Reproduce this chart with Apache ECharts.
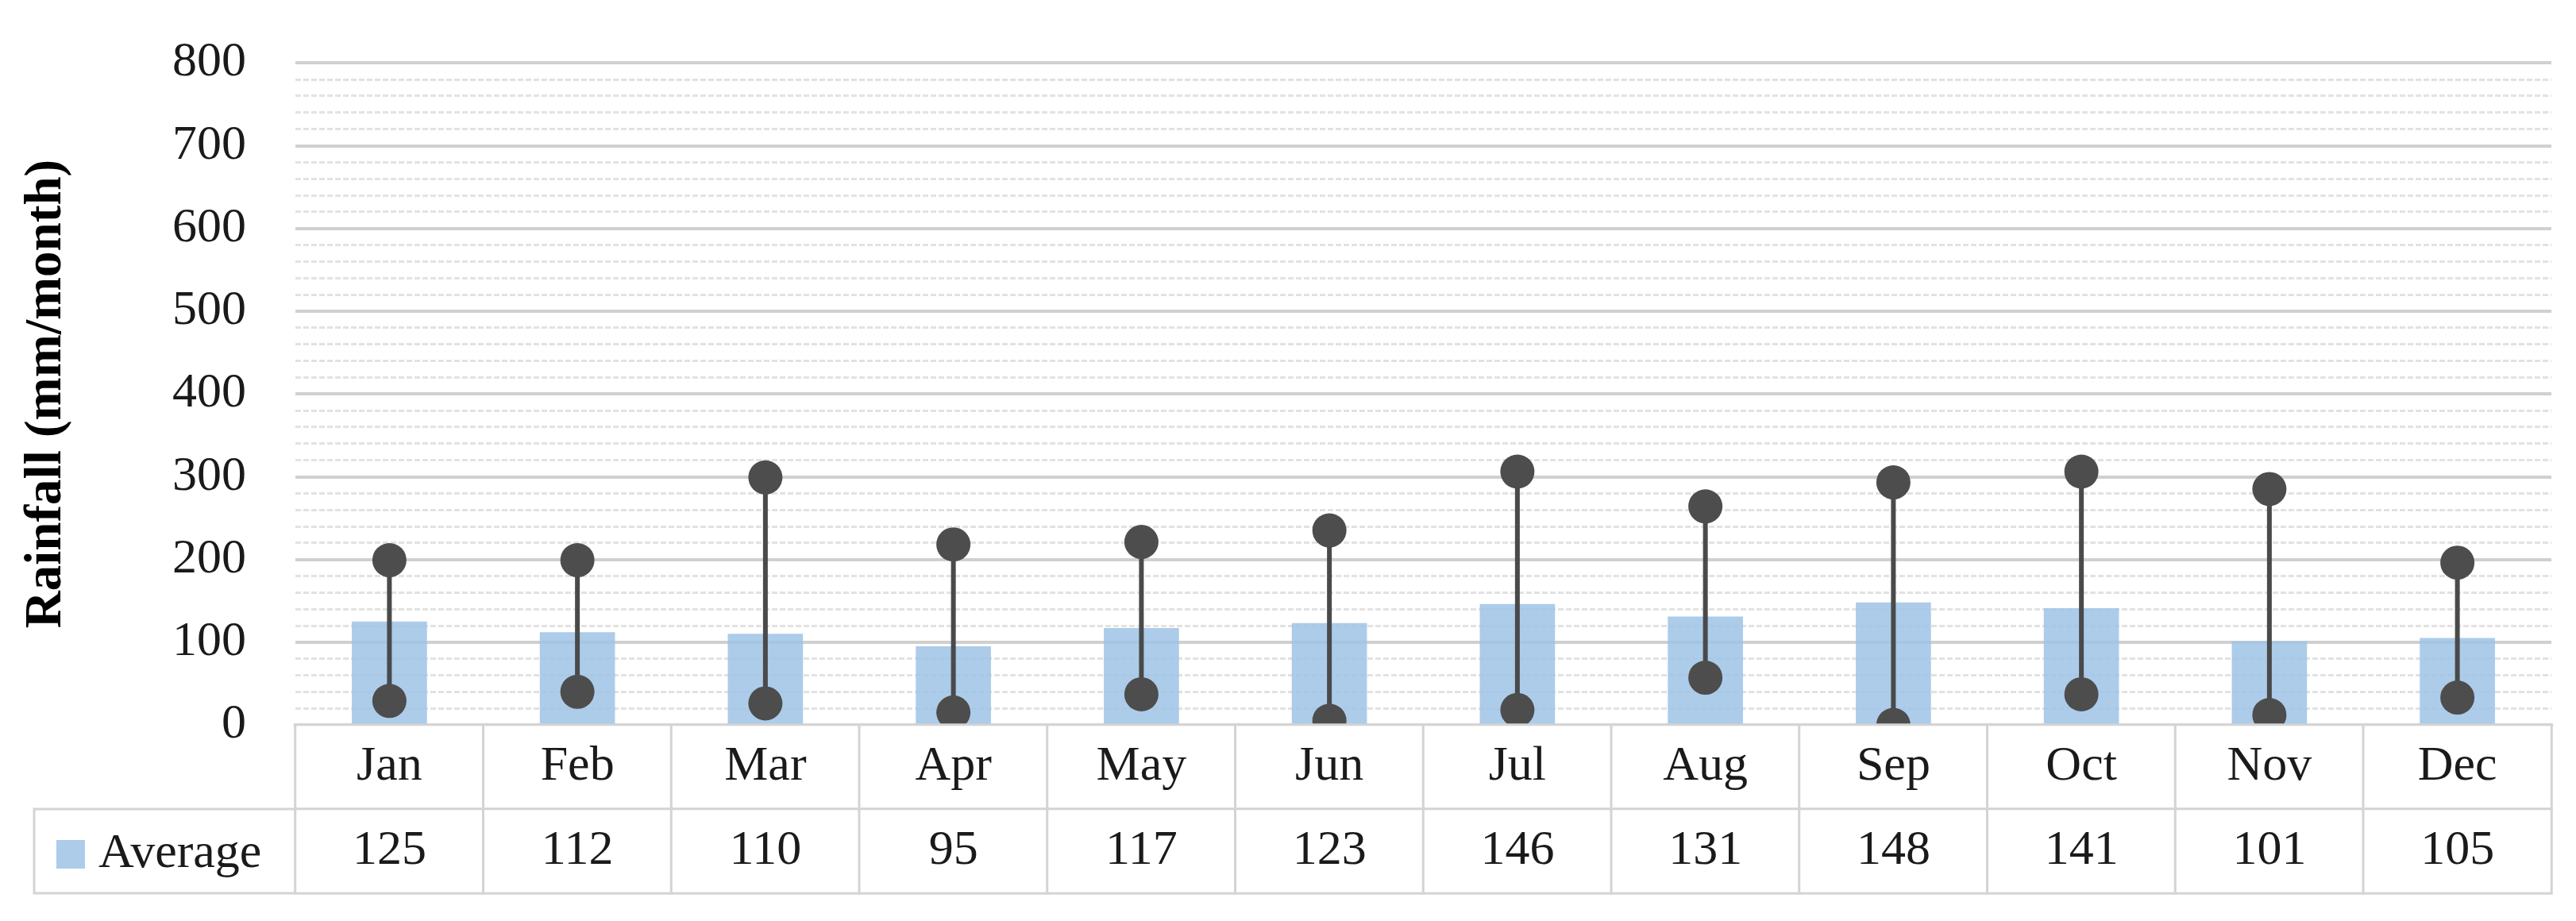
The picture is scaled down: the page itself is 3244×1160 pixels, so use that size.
<!DOCTYPE html>
<html>
<head>
<meta charset="utf-8">
<script src="https://cdn.jsdelivr.net/npm/echarts@6/dist/echarts.min.js"></script>
<style>
html,body{margin:0;padding:0;background:#fff;}
#chart{width:3244px;height:1160px;}
</style>
</head>
<body>
<div id="chart"></div>
<script>
var months = ['Jan','Feb','Mar','Apr','May','Jun','Jul','Aug','Sep','Oct','Nov','Dec'];
var averageValues = [125,112,110,95,117,123,146,131,148,141,101,105];
var maxValues = [199,199,299,218,221,235,306,264,293,306,285,196];
var minValues = [29,40,26,15,37,5,18,57,0,37,12,33];
var yTicks = [0,100,200,300,400,500,600,700,800];

var FONT = "'Palatino Linotype','Book Antiqua',Palatino,'Liberation Serif',serif";
var TXT = '#1a1a1a';
var BORDER = '#d4d4d4';

var rangeData = months.map(function(m, i){ return [i, minValues[i], maxValues[i]]; });
var tableData = [];
months.forEach(function(m, i){
  tableData.push([i, 1, averageValues[i]]);
  tableData.push([i, 0, averageValues[i]]);
});

var chart = echarts.init(document.getElementById('chart'), null, {renderer:'canvas'});
chart.setOption({
  animation: false,
  backgroundColor: '#ffffff',
  textStyle: {fontFamily: FONT},
  grid: [
    {left: 372, right: 31, top: 79, bottom: 247, containLabel: false},
    {left: 372, right: 31, top: 913, height: 212, containLabel: false}
  ],
  legend: {
    data: ['Average'],
    left: 66, top: 1035,
    itemWidth: 36, itemHeight: 36,
    icon: 'rect',
    textStyle: {fontFamily: FONT, fontSize: 62, color: TXT, lineHeight: 72, padding: [0,0,0,12]}
  },
  xAxis: [
    {gridIndex: 0, type: 'category', data: months,
     axisLine: {show: true, lineStyle: {color: BORDER, width: 5}},
     axisTick: {show: false}, axisLabel: {show: false}, splitLine: {show: false}},
    {gridIndex: 1, type: 'category', data: months,
     axisLine: {show: false}, axisTick: {show: false}, axisLabel: {show: false}, splitLine: {show: false}}
  ],
  yAxis: [
    {gridIndex: 0, type: 'value', min: yTicks[0], max: yTicks[yTicks.length-1], interval: 100,
     name: 'Rainfall (mm/month)', nameLocation: 'middle', nameGap: 280,
     nameTextStyle: {fontFamily: FONT, fontSize: 65, fontWeight: 'bold', color: '#000'},
     axisLine: {show: false}, axisTick: {show: false},
     axisLabel: {fontFamily: FONT, fontSize: 62, color: TXT, margin: 62},
     splitLine: {show: true, lineStyle: {color: '#d0d0d0', width: 4}},
     minorTick: {show: false, splitNumber: 5},
     minorSplitLine: {show: true, lineStyle: {color: '#e2e2e2', width: 3, type: [7,3]}}
    },
    {gridIndex: 1, type: 'category', data: ['value','month'],
     axisLine: {show: false}, axisTick: {show: false}, axisLabel: {show: false}, splitLine: {show: false}}
  ],
  series: [
    {name: 'Average', type: 'bar', xAxisIndex: 0, yAxisIndex: 0,
     data: averageValues, barWidth: '40%',
     itemStyle: {color: '#9dc3e6', opacity: 0.85}, z: 2},
    {name: 'Range', type: 'custom', xAxisIndex: 0, yAxisIndex: 0,
     data: rangeData, clip: true, z: 3,
     encode: {x: 0, y: [1, 2]},
     renderItem: function(params, api){
       var x = api.value(0), lo = api.value(1), hi = api.value(2);
       var p1 = api.coord([x, lo]), p2 = api.coord([x, hi]);
       return {type: 'group', children: [
         {type: 'line', shape: {x1: p1[0], y1: p1[1], x2: p2[0], y2: p2[1]}, style: {stroke: '#4a4a4a', lineWidth: 6}},
         {type: 'circle', shape: {cx: p1[0], cy: p1[1], r: 21.5}, style: {fill: '#4d4d4d'}},
         {type: 'circle', shape: {cx: p2[0], cy: p2[1], r: 21.5}, style: {fill: '#4d4d4d'}}
       ]};
     }},
    {name: 'Table', type: 'heatmap', xAxisIndex: 1, yAxisIndex: 1,
     data: tableData, z: 5,
     itemStyle: {color: '#ffffff', borderColor: BORDER, borderWidth: 3},
     emphasis: {disabled: true},
     label: {show: true, fontFamily: FONT, fontSize: 62, color: TXT,
       formatter: function(p){ return p.data[1] === 1 ? months[p.data[0]] : String(p.data[2]); }}
    }
  ],
  graphic: [
    {type: 'rect', shape: {x: 43, y: 1019, width: 329, height: 106},
     style: {fill: 'none', stroke: BORDER, lineWidth: 3}, z: 1}
  ]
});
</script>
</body>
</html>
